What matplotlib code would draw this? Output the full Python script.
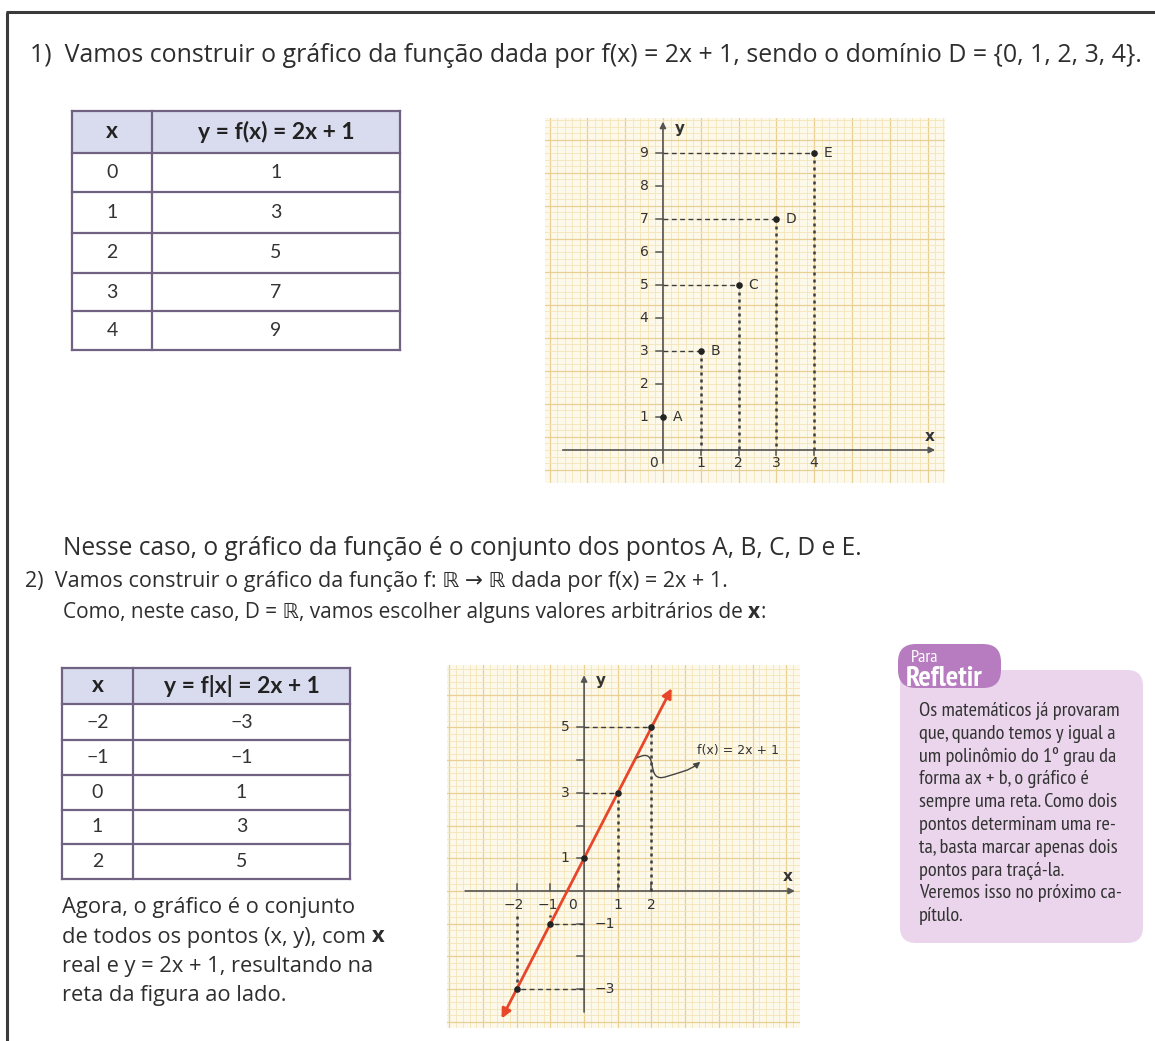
import numpy as np
import matplotlib
matplotlib.use("Agg")
import matplotlib.pyplot as plt
from matplotlib.patches import Rectangle, FancyBboxPatch, FancyArrowPatch
from matplotlib.path import Path
from matplotlib import font_manager

# ---------------- data ----------------
domain_1 = [0, 1, 2, 3, 4]
image_1 = [1, 3, 5, 7, 9]
point_names = ["A", "B", "C", "D", "E"]
y_ticks_1 = [1, 2, 3, 4, 5, 6, 7, 8, 9]
x_ticks_1 = [1, 2, 3, 4]

domain_2 = [-2, -1, 0, 1, 2]
image_2 = [-3, -1, 1, 3, 5]
y_ticks_2 = [-3, -2, -1, 1, 2, 3, 4, 5]
y_labels_2 = [5, 3, 1, -1, -3]
x_ticks_2 = [-2, -1, 1, 2]

slope, intercept = 2, 1
line_span = [-2.45, 2.6]

header_1 = ["x", "y = f(x) = 2x + 1"]
header_2 = ["x", "y = f|x| = 2x + 1"]

title_1 = "1)  Vamos construir o gráfico da função dada por f(x) = 2x + 1, sendo o domínio D = {0, 1, 2, 3, 4}."
note_1 = "Nesse caso, o gráfico da função é o conjunto dos pontos A, B, C, D e E."
title_2 = "2)  Vamos construir o gráfico da função f: ℝ → ℝ dada por f(x) = 2x + 1."
note_2 = [("Como, neste caso, D = ℝ, vamos escolher alguns valores arbitrários de ", "normal"),
          ("x", "bold"), (":", "normal")]
para_lines = [
    [("Agora, o gráfico é o conjunto", "normal")],
    [("de todos os pontos (x, y), com ", "normal"), ("x", "bold")],
    [("real e y = 2x + 1, resultando na", "normal")],
    [("reta da figura ao lado.", "normal")],
]
box_title = ["Para", "Refletir"]
box_lines = [
    "Os matemáticos já provaram",
    "que, quando temos y igual a",
    "um polinômio do 1º grau da",
    "forma ax + b, o gráfico é",
    "sempre uma reta. Como dois",
    "pontos determinam uma re-",
    "ta, basta marcar apenas dois",
    "pontos para traçá-la.",
    "Veremos isso no próximo ca-",
    "pítulo.",
]

# ---------------- page setup ----------------
W, H, DPI = 1155, 1041, 100
weights = {}
for f in font_manager.fontManager.ttflist:
    weights.setdefault(f.name, set()).add(f.weight)


def bold_ok(name):
    return any((isinstance(w, (int, float)) and w >= 600) or w in ("bold", "semibold", "heavy")
               for w in weights.get(name, ()))


def first_font(cands, default, need_bold=False):
    for c in cands:
        if c in weights and (bold_ok(c) or not need_bold):
            return c
    return default


BODY = first_font(["Open Sans", "Noto Sans"], "DejaVu Sans")
NARROW = first_font(["PT Sans Narrow", "Roboto Condensed", "Fira Sans Condensed",
                     "Source Sans 3"], BODY)
ROUND = first_font(["Century Gothic", "Questrial", "Jost", "Nunito", "Mulish", "Lato"],
                   "DejaVu Sans", need_bold=True)
FAM = [BODY, "DejaVu Sans"]
NFAM = [NARROW, "DejaVu Sans"]
INK = "#2e2e2e"

fig = plt.figure(figsize=(W / DPI, H / DPI), dpi=DPI, facecolor="white")
page = fig.add_axes([0, 0, 1, 1])
page.set_xlim(0, W)
page.set_ylim(H, 0)
page.axis("off")
renderer = fig.canvas.get_renderer()


def adv_width(s, size, family, weight="normal"):
    """Advance width of a string in pixels (spaces included)."""
    t = page.text(0, 0, "|" + s + "|", fontsize=size, family=family, fontweight=weight)
    w = t.get_window_extent(renderer).width
    t.remove()
    t = page.text(0, 0, "||", fontsize=size, family=family, fontweight=weight)
    w -= t.get_window_extent(renderer).width
    t.remove()
    return w


def fit_size(runs, width, family=FAM):
    total = sum(adv_width(s, 10, family, w) for s, w in runs)
    return 10 * width / total


def put_runs(x, base, runs, size, family=FAM, color=INK):
    cur = x
    for s, w in runs:
        page.text(cur, base, s, fontsize=size, family=family, fontweight=w,
                  color=color, ha="left", va="baseline")
        cur += adv_width(s, size, family, w)


# page frame (top and left rules)
page.plot([7, 7], [12, H], color="#3a3a3a", lw=2.2, solid_capstyle="butt")
page.plot([6, W], [12, 12], color="#3a3a3a", lw=2.2, solid_capstyle="butt")

# ---------------- running text ----------------
r = [(title_1, "normal")]
put_runs(30, 62, r, fit_size(r, 1110))
r = [(note_1, "normal")]
put_runs(63, 555, r, fit_size(r, 797))
r = [(title_2, "normal")]
put_runs(25, 587, r, fit_size(r, 700))
put_runs(63, 618, note_2, fit_size(note_2, 702))
p_size = fit_size(para_lines[0], 293)
for i, runs in enumerate(para_lines):
    put_runs(62, 913 + i * 29.5, runs, p_size)


# ---------------- tables ----------------
def draw_table(x0, x1, xdiv, y_edges, header, col_x, col_y, hsize, vsize):
    edge = "#6f6283"
    page.add_patch(Rectangle((x0, y_edges[0]), x1 - x0, y_edges[1] - y_edges[0],
                             facecolor="#d9dcee", edgecolor="none"))
    for yy in y_edges:
        page.plot([x0, x1], [yy, yy], color=edge, lw=1.6)
    for xx in (x0, xdiv, x1):
        page.plot([xx, xx], [y_edges[0], y_edges[-1]], color=edge, lw=1.6)
    hy = (y_edges[0] + y_edges[1]) / 2
    page.text((x0 + xdiv) / 2, hy, header[0], fontsize=hsize, family=ROUND,
              fontweight="bold", ha="center", va="center", color="#222")
    page.text((xdiv + x1) / 2, hy, header[1], fontsize=hsize, family=ROUND,
              fontweight="bold", ha="center", va="center", color="#222")
    for i, (a, b) in enumerate(zip(col_x, col_y)):
        cy = (y_edges[i + 1] + y_edges[i + 2]) / 2
        page.text((x0 + xdiv) / 2, cy, str(a).replace("-", "\u2212"), fontsize=vsize,
                  family=ROUND, ha="center", va="center", color="#333")
        page.text((xdiv + x1) / 2, cy, str(b).replace("-", "\u2212"), fontsize=vsize,
                  family=ROUND, ha="center", va="center", color="#333")


draw_table(72, 400, 152, [111, 153, 192, 233, 273, 311, 350], header_1, domain_1, image_1, 16.5, 14)
draw_table(62, 350, 133, [668, 704, 740, 775, 810, 844, 879], header_2, domain_2, image_2, 16.5, 14)


# ---------------- graph-paper axes ----------------
def paper_axes(px0, py0, px1, py1, xlim, ylim, y_major_offset):
    ax = fig.add_axes([px0 / W, 1 - py1 / H, (px1 - px0) / W, (py1 - py0) / H])
    ax.set_xlim(*xlim)
    ax.set_ylim(*ylim)
    ax.set_facecolor("#fdf9ea")
    ax.set_xticks([])
    ax.set_yticks([])
    for sp in ax.spines.values():
        sp.set_visible(False)
    for v in np.arange(np.floor(xlim[0]), xlim[1], 0.2):
        major = abs(v - round(v)) < 1e-6
        ax.axvline(v, color="#e8cf94" if major else "#f4e4b8", lw=0.9 if major else 0.6, zorder=0)
    for v in np.arange(np.floor(ylim[0]) + y_major_offset, ylim[1], 0.2):
        major = abs((v - y_major_offset) - round(v - y_major_offset)) < 1e-6
        ax.axhline(v, color="#e8cf94" if major else "#f4e4b8", lw=0.9 if major else 0.6, zorder=0)
    return ax


def axis_arrow(ax, p0, p1):
    ax.add_patch(FancyArrowPatch(p0, p1, arrowstyle="-|>", mutation_scale=9,
                                 color="#555", lw=1.2, shrinkA=0, shrinkB=0, zorder=3))


AX_FONT = "DejaVu Sans"
dash_h = dict(color="#3c3c3c", lw=1.0, linestyle=(0, (3.5, 2.5)), zorder=4)
dot_v = dict(color="#3c3c3c", lw=1.8, linestyle=(0, (1.2, 1.6)), zorder=4)

# ---- graph 1: discrete domain ----
ax1 = paper_axes(545, 118, 945, 483, (-3.12, 7.46), (-1.0, 10.06), 0.4)
axis_arrow(ax1, (-2.65, 0), (7.2, 0))
axis_arrow(ax1, (0, -0.4), (0, 9.95))
for yv in y_ticks_1:
    ax1.plot([-0.18, 0], [yv, yv], color="#555", lw=1.1, zorder=3)
    ax1.text(-0.5, yv, str(yv), fontsize=10, family=AX_FONT, ha="center", va="center", color="#333")
for xv in x_ticks_1:
    ax1.plot([xv, xv], [0, -0.15], color="#555", lw=1.1, zorder=3)
    ax1.text(xv, -0.4, str(xv), fontsize=10, family=AX_FONT, ha="center", va="center", color="#333")
ax1.text(-0.26, -0.4, "0", fontsize=10, family=AX_FONT, ha="center", va="center", color="#333")
ax1.text(0.45, 9.75, "y", fontsize=11, family=AX_FONT, fontweight="bold", ha="center", va="center", color="#333")
ax1.text(7.05, 0.4, "x", fontsize=11, family=AX_FONT, fontweight="bold", ha="center", va="center", color="#333")
for xv, yv, nm in zip(domain_1, image_1, point_names):
    if xv != 0:
        ax1.plot([0, xv], [yv, yv], **dash_h)
        ax1.plot([xv, xv], [yv, 0], **dot_v)
    ax1.text(xv + 0.25, yv, nm, fontsize=10, family=AX_FONT, ha="left", va="center", color="#333")
ax1.scatter(domain_1, image_1, s=14, color="#222", zorder=6)

# ---- graph 2: real domain ----
ax2 = paper_axes(447, 665, 800, 1028, (-4.07, 6.41), (-4.19, 6.91), 0.0)
axis_arrow(ax2, (-3.53, 0), (6.26, 0))
axis_arrow(ax2, (0, -3.7), (0, 6.6))
for yv in y_ticks_2:
    ax2.plot([-0.2, 0], [yv, yv], color="#555", lw=1.1, zorder=3)
for xv in x_ticks_2:
    ax2.plot([xv, xv], [0, 0.2], color="#555", lw=1.1, zorder=3)
for yv in y_labels_2:
    xl = -0.56 if yv > 0 else 0.62
    ax2.text(xl, yv, str(yv).replace("-", "\u2212"), fontsize=10, family=AX_FONT,
             ha="center", va="center", color="#333")
for xv in x_ticks_2:
    ax2.text(xv - (0.08 if xv < 0 else 0), -0.42, str(xv).replace("-", "\u2212"), fontsize=10,
             family=AX_FONT, ha="center", va="center", color="#333")
ax2.text(-0.33, -0.42, "0", fontsize=10, family=AX_FONT, ha="center", va="center", color="#333")
ax2.text(0.5, 6.45, "y", fontsize=11, family=AX_FONT, fontweight="bold", ha="center", va="center", color="#333")
ax2.text(6.05, 0.45, "x", fontsize=11, family=AX_FONT, fontweight="bold", ha="center", va="center", color="#333")
for xv, yv in zip(domain_2, image_2):
    if xv > 0:
        ax2.plot([0, xv], [yv, yv], **dash_h)
        ax2.plot([xv, xv], [yv, 0], **dot_v)
    elif xv < 0:
        ax2.plot([0, xv], [yv, yv], **dash_h)
        ax2.plot([xv, xv], [yv, -0.72], **dot_v)

# the line y = 2x + 1 with arrow heads at both ends
lx0, lx1 = line_span
ax2.add_patch(FancyArrowPatch((lx0, slope * lx0 + intercept), (lx1, slope * lx1 + intercept),
                              arrowstyle="<|-|>", mutation_scale=14, color="#e8462a",
                              lw=2.0, shrinkA=0, shrinkB=0, zorder=5))
ax2.scatter(domain_2, image_2, s=14, color="#222", zorder=6)

# curly pointer to the equation label
curl = Path([(1.57, 4.07), (2.3, 4.45), (1.75, 3.25), (2.45, 3.5),
             (2.8, 3.62), (3.1, 3.65), (3.45, 3.95)],
            [Path.MOVETO, Path.CURVE4, Path.CURVE4, Path.CURVE4,
             Path.CURVE4, Path.CURVE4, Path.CURVE4])
ax2.add_patch(FancyArrowPatch(path=curl, arrowstyle="-|>", mutation_scale=9,
                              color="#444", lw=1.0, zorder=5))
ax2.text(3.35, 4.31, "f(x) = 2x + 1", fontsize=9, family=AX_FONT, ha="left", va="center", color="#333")

# ---------------- "Para Refletir" box ----------------
page.add_patch(FancyBboxPatch((900, 670), 243, 273, boxstyle="round,pad=0,rounding_size=16",
                              facecolor="#ead5ec", edgecolor="none"))
page.add_patch(FancyBboxPatch((898, 644), 103, 44, boxstyle="round,pad=0,rounding_size=18",
                              facecolor="#b77cc0", edgecolor="none"))
page.text(911, 658, box_title[0], fontsize=13, family=NFAM, color="white", ha="left", va="center")
page.text(906, 679, box_title[1], fontsize=21, family=NFAM, color="white", ha="left", va="center",
          fontweight="bold")
bsize = fit_size([(box_lines[0], "normal")], 200, NFAM)
for i, ln in enumerate(box_lines):
    page.text(919, 716 + i * 22.8, ln, fontsize=bsize, family=NFAM, color="#333",
              ha="left", va="baseline")

fig.savefig("out.png", dpi=DPI, facecolor="white")
